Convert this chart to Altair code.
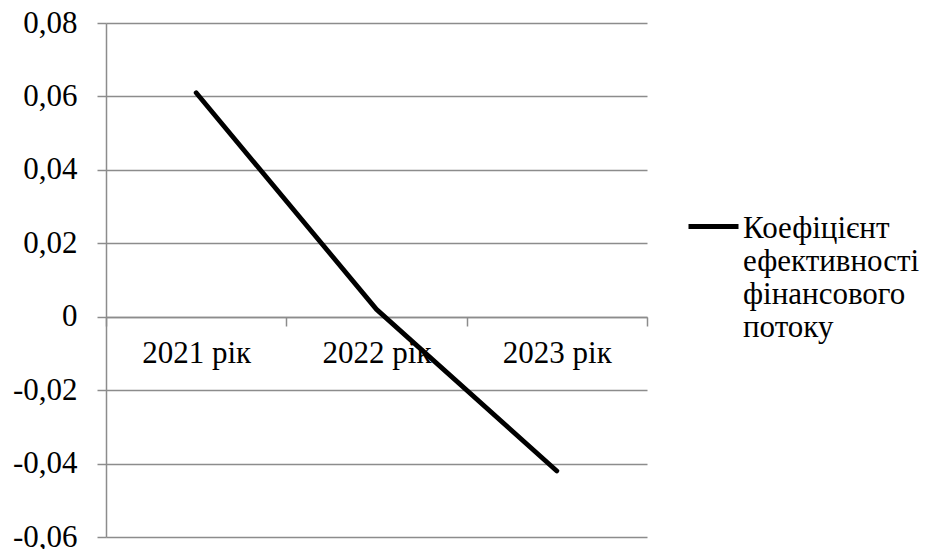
import altair as alt
import pandas as pd

years = ["2021 рік", "2022 рік", "2023 рік"]
values = [0.061, 0.002, -0.042]
series_name = "Коефіцієнт ефективності фінансового потоку"
legend_lines = ["Коефіцієнт", "ефективності", "фінансового", "потоку"]
y_ticks = [-0.06, -0.04, -0.02, 0.0, 0.02, 0.04, 0.06, 0.08]

df = pd.DataFrame({"year": years, "value": values, "series": [series_name] * len(years)})

FONT = "Liberation Serif"
FS = 31
GRID = "#8c8c8c"

label_expr_y = ("datum.value == 0 ? '0' : (datum.value < 0 ? '-' : '') + "
                "replace(format(abs(datum.value), '.2f'), '.', ',')")
legend_expr = "[" + ",".join("'" + s + "'" for s in legend_lines) + "]"

chart = alt.Chart(df).mark_line(strokeWidth=4.8, strokeCap="round", strokeJoin="round").encode(
    x=alt.X("year:N", sort=years, bandPosition=0.5,
            scale=alt.Scale(type="band", paddingInner=0, paddingOuter=0),
            axis=alt.Axis(title=None, orient="bottom", offset=-220, grid=False,
                          tickBand="extent", tickSize=9, tickColor=GRID, tickWidth=1.5,
                          domainColor=GRID, domainWidth=1.5, labelAngle=0,
                          labelFont=FONT, labelFontSize=FS, labelColor="black",
                          labelPadding=12, labelBaseline="top")),
    y=alt.Y("value:Q", scale=alt.Scale(domain=[-0.06, 0.08], nice=False, zero=False),
            axis=alt.Axis(title=None, values=y_ticks, labelExpr=label_expr_y,
                          grid=True, gridColor=GRID, gridWidth=1.5,
                          tickSize=9, tickColor=GRID, tickWidth=1.5,
                          domainColor=GRID, domainWidth=1.5,
                          labelFont=FONT, labelFontSize=FS, labelColor="black",
                          labelPadding=20)),
    color=alt.Color("series:N", scale=alt.Scale(range=["black"]),
                    legend=alt.Legend(title=None, orient="none", legendX=580, legendY=163,
                                      symbolType="M-1,0.52H1", symbolSize=2500,
                                      symbolStrokeWidth=4.8, labelOffset=2,
                                      labelExpr=legend_expr, labelFont=FONT,
                                      labelFontSize=FS, labelColor="black",
                                      labelBaseline="top", labelLimit=400)),
).properties(
    width=541, height=514,
    padding={"left": 98, "top": 15, "right": 276, "bottom": 12},
    autosize=alt.AutoSizeParams(type="none"),
).configure(font=FONT).configure_view(stroke=None)

chart.save("out.html", embed_options={"renderer": "svg", "actions": False})
